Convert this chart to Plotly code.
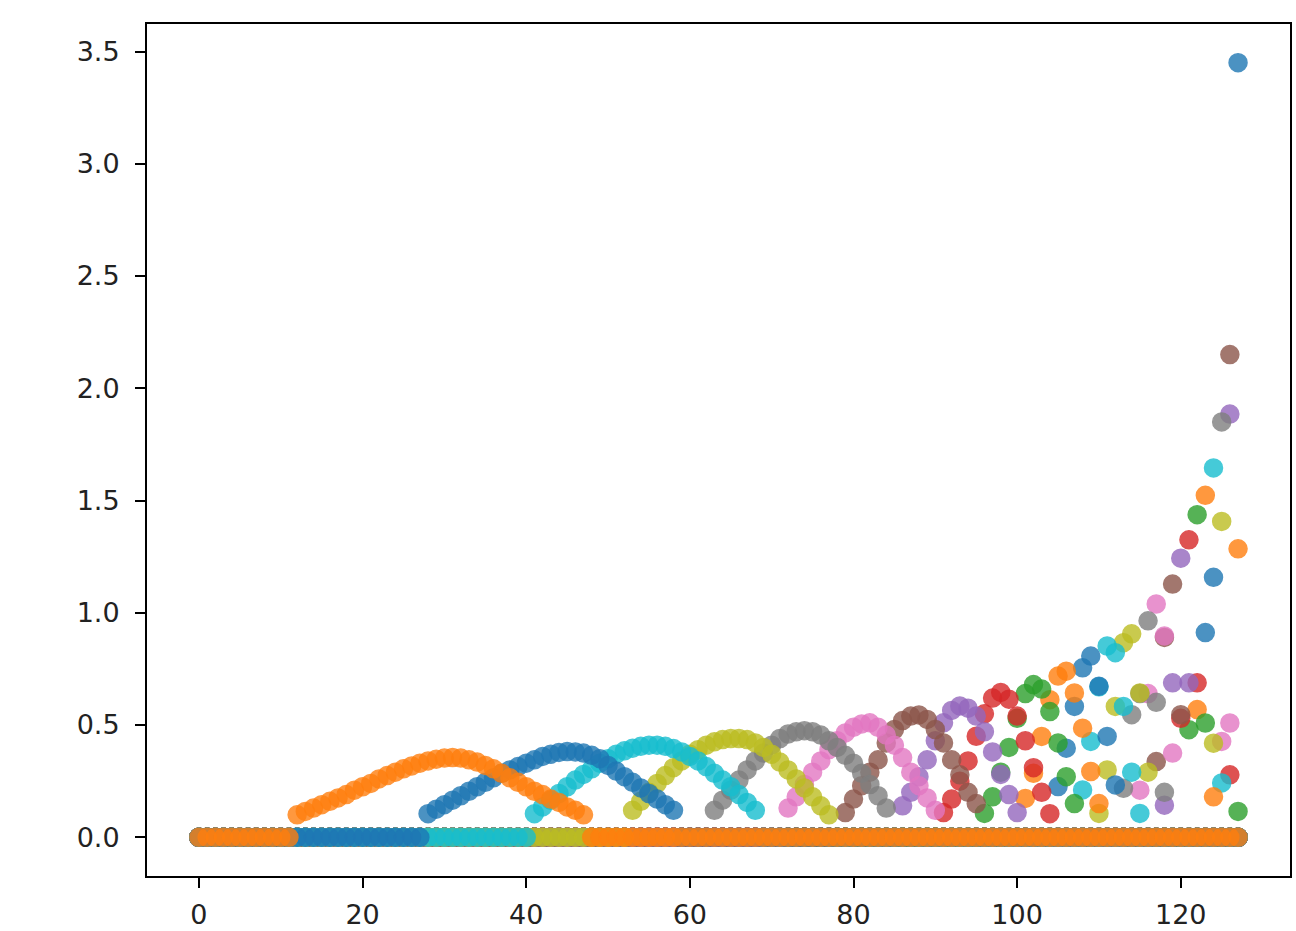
import plotly.graph_objects as go

n_bins = 128
bins = list(range(n_bins))

# Nonzero part of each filter, ordered from the lowest (left) filter to the highest.
filter_start = [12, 28, 41, 53, 63, 72, 79, 86, 91, 96,
                101, 105, 108, 110, 113, 115, 117, 118, 120, 121,
                122, 123, 124, 124, 125, 125, 126, 126, 126, 127,
                127, 127]

filter_values = [
    [0.10, 0.115, 0.13, 0.145, 0.16, 0.175, 0.19, 0.21, 0.225, 0.24, 0.26, 0.275, 0.29, 0.305, 0.318, 0.33,
     0.34, 0.348, 0.353, 0.355, 0.353, 0.345, 0.335, 0.32, 0.305, 0.285, 0.265, 0.245, 0.225, 0.205, 0.19,
     0.17, 0.155, 0.135, 0.12, 0.10],
    [0.105, 0.125, 0.145, 0.165, 0.185, 0.205, 0.225, 0.245, 0.265, 0.285, 0.30, 0.315, 0.33, 0.345, 0.36,
     0.37, 0.378, 0.382, 0.38, 0.375, 0.365, 0.35, 0.32, 0.295, 0.27, 0.245, 0.22, 0.195, 0.17, 0.145, 0.12],
    [0.105, 0.135, 0.165, 0.195, 0.225, 0.255, 0.28, 0.305, 0.33, 0.35, 0.37, 0.385, 0.397, 0.405, 0.41,
     0.41, 0.405, 0.395, 0.38, 0.36, 0.34, 0.315, 0.285, 0.255, 0.225, 0.19, 0.155, 0.12],
    [0.12, 0.16, 0.20, 0.24, 0.275, 0.31, 0.34, 0.37, 0.39, 0.41, 0.425, 0.435, 0.44, 0.44, 0.435, 0.42,
     0.40, 0.37, 0.335, 0.30, 0.26, 0.22, 0.18, 0.14, 0.10],
    [0.12, 0.165, 0.21, 0.255, 0.30, 0.34, 0.375, 0.41, 0.44, 0.46, 0.47, 0.475, 0.47, 0.455, 0.43, 0.40,
     0.365, 0.33, 0.285, 0.235, 0.185, 0.13],
    [0.13, 0.18, 0.235, 0.29, 0.34, 0.39, 0.43, 0.465, 0.49, 0.505, 0.51, 0.49, 0.455, 0.41, 0.355, 0.29,
     0.23, 0.175, 0.12],
    [0.11, 0.17, 0.23, 0.29, 0.345, 0.42, 0.48, 0.52, 0.54, 0.545, 0.525, 0.48, 0.42, 0.345, 0.278, 0.20, 0.15],
    [0.14, 0.20, 0.27, 0.345, 0.43, 0.51, 0.565, 0.585, 0.575, 0.54, 0.47, 0.38, 0.28, 0.19, 0.11],
    [0.11, 0.17, 0.25, 0.34, 0.45, 0.55, 0.62, 0.645, 0.615, 0.54, 0.43, 0.31, 0.20, 0.105],
    [0.106, 0.18, 0.29, 0.40, 0.53, 0.64, 0.68, 0.66, 0.56, 0.42, 0.27, 0.15],
    [0.173, 0.285, 0.449, 0.613, 0.718, 0.74, 0.643, 0.486, 0.293, 0.15],
    [0.226, 0.397, 0.583, 0.755, 0.807, 0.673, 0.449, 0.233],
    [0.211, 0.427, 0.67, 0.852, 0.822, 0.583, 0.29, 0.106],
    [0.106, 0.30, 0.583, 0.867, 0.906, 0.643, 0.29],
    [0.218, 0.546, 0.64, 0.964, 0.601, 0.20],
    [0.21, 0.64, 1.039, 0.897, 0.375],
    [0.337, 0.89, 1.128, 0.546],
    [0.143, 0.688, 1.243, 0.688],
    [0.53, 1.325, 0.688],
    [0.479, 1.437, 0.509],
    [0.569, 1.523, 0.18],
    [0.912, 1.158],
    [1.645, 0.242],
    [0.419, 1.407],
    [1.85],
    [0.427, 0.509],
    [2.15],
    [1.885],
    [0.278],
    [0.115],
    [1.285],
    [3.45],
]

x_ticks = [0, 20, 40, 60, 80, 100, 120]
y_ticks = [0.0, 0.5, 1.0, 1.5, 2.0, 2.5, 3.0, 3.5]

palette = ["#1f77b4", "#ff7f0e", "#2ca02c", "#d62728", "#9467bd",
           "#8c564b", "#e377c2", "#7f7f7f", "#bcbd22", "#17becf"]

fig = go.Figure()
n_filters = len(filter_start)
# matplotlib drew the highest filter first, so reverse order for plotting
for p, k in enumerate(reversed(range(n_filters))):
    row = [0.0] * n_bins
    for j, v in enumerate(filter_values[k]):
        row[filter_start[k] + j] = v
    c = palette[p % 10]
    fig.add_trace(go.Scatter(
        x=bins, y=row, mode="markers",
        marker=dict(size=18, color=c, opacity=0.8, line=dict(width=1.5, color=c)),
        showlegend=False, hoverinfo="skip"))

axis_common = dict(showgrid=False, zeroline=False, showline=True, linecolor="black",
                   linewidth=2, mirror=True, ticks="outside", ticklen=10, tickwidth=2,
                   tickcolor="black", automargin=False,
                   tickfont=dict(family="DejaVu Sans", size=27, color="#222"))

fig.update_layout(
    width=1296, height=931,
    margin=dict(l=147, r=6, t=24, b=55),
    paper_bgcolor="white", plot_bgcolor="white",
    xaxis=dict(range=[-6.35, 133.35], tickvals=x_ticks, ticktext=[str(t) for t in x_ticks],
               ticklabelstandoff=4, **axis_common),
    yaxis=dict(range=[-0.1725, 3.6225], tickvals=y_ticks, ticktext=[f"{t:.1f}" for t in y_ticks],
               ticklabelstandoff=10, **axis_common),
)

fig.write_html("out.html", config={"displayModeBar": False},
               post_script="document.body.style.margin='0';document.body.style.overflow='hidden';")
